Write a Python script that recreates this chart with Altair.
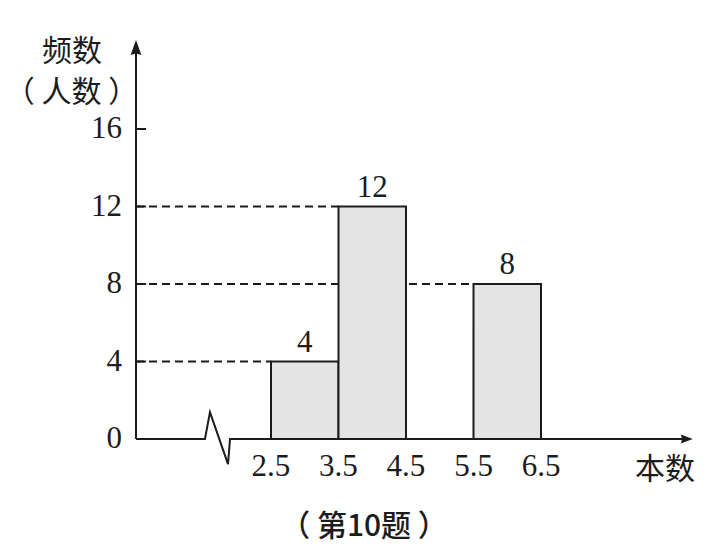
import altair as alt
import pandas as pd

# Frequency table: number of books read (class intervals) and number of people
bin_start = [2.5, 3.5, 4.5, 5.5]
bin_end = [3.5, 4.5, 5.5, 6.5]
counts = [4, 12, 0, 8]

y_ticks = [0, 4, 8, 12, 16]
x_ticks = [2.5, 3.5, 4.5, 5.5, 6.5]

y_title = ["频数", "（ 人数 ）"]
x_title = "本数"
caption = "（ 第10题 ）"

# Axis geometry, in data units
AXIS_X0 = 0.5          # position of the vertical axis on the x scale
Y_AXIS_TOP = 20.08
Y_ARROW = 20.21
X_AXIS_END = 8.63
X_ARROW = 8.66
# horizontal axis with a zigzag break between the origin and 2.5
break_x = [AXIS_X0, 1.522, 1.596, 1.863, 1.893, X_AXIS_END]
break_y = [0, 0, 1.39, -1.30, 0, 0]

X_DOMAIN = [-1.5148, 9.1074]
Y_DOMAIN = [-6.1419, 22.6581]

INK = "#1c1c1c"
SERIF = "Liberation Serif"
CJK = "Noto Sans CJK SC"
NUM_SIZE = 31


def xs(field, t="Q"):
    return alt.X(f"{field}:{t}", scale=alt.Scale(domain=X_DOMAIN, nice=False, zero=False), axis=None)


def ys(field, t="Q"):
    return alt.Y(f"{field}:{t}", scale=alt.Scale(domain=Y_DOMAIN, nice=False, zero=False), axis=None)


bars = pd.DataFrame({"start": bin_start, "end": bin_end, "count": counts})
bars["mid"] = (bars["start"] + bars["end"]) / 2
bars["base"] = 0
bars["axis"] = AXIS_X0
bars = bars[bars["count"] > 0]

# dashed guides from the vertical axis to the top of each bar (drawn under the bars)
guides = alt.Chart(bars).mark_rule(strokeDash=[8, 5], strokeWidth=1.8, color=INK).encode(
    x=xs("axis"), x2="start:Q", y=ys("count")
)

rects = alt.Chart(bars).mark_rect(fill="#e4e4e4", stroke=INK, strokeWidth=2).encode(
    x=xs("start"), x2="end:Q", y=ys("count"), y2="base:Q"
)

value_labels = alt.Chart(bars).mark_text(
    font=SERIF, fontSize=NUM_SIZE, dy=-19, baseline="middle", color=INK
).encode(x=xs("mid"), y=ys("count"), text="count:Q")

# horizontal axis with the break
axis_df = pd.DataFrame({"bx": break_x, "by": break_y, "o": range(len(break_x))})
x_axis = alt.Chart(axis_df).mark_line(color=INK, strokeWidth=2, strokeJoin="miter").encode(
    x=xs("bx"), y=ys("by"), order="o:O"
)

yax_df = pd.DataFrame({"x": [AXIS_X0], "y0": [0], "y1": [Y_AXIS_TOP]})
y_axis = alt.Chart(yax_df).mark_rule(color=INK, strokeWidth=2).encode(
    x=xs("x"), y=ys("y0"), y2="y1:Q"
)

up_arrow = alt.Chart(pd.DataFrame({"x": [AXIS_X0], "y": [Y_ARROW]})).mark_point(
    shape="M0,-1L-0.72,1L0,0.8L0.72,1Z", size=225, filled=True, color=INK, opacity=1
).encode(x=xs("x"), y=ys("y"))

right_arrow = alt.Chart(pd.DataFrame({"x": [X_ARROW], "y": [0]})).mark_point(
    shape="M1,0L-1,-0.75L-0.8,0L-1,0.75Z", size=144, filled=True, color=INK, opacity=1
).encode(x=xs("x"), y=ys("y"))

# y ticks and labels
ytick_df = pd.DataFrame({"v": y_ticks})
ytick_df["a"] = AXIS_X0
ytick_df["b"] = AXIS_X0 + 0.15
ytick_df["lx"] = 0.292
y_tick_marks = alt.Chart(ytick_df[ytick_df["v"] > 0]).mark_rule(color=INK, strokeWidth=2).encode(
    x=xs("a"), x2="b:Q", y=ys("v")
)
y_tick_labels = alt.Chart(ytick_df).mark_text(
    font=SERIF, fontSize=NUM_SIZE, align="right", baseline="middle", color=INK
).encode(x=xs("lx"), y=ys("v"), text="v:Q")

# x tick labels
xtick_df = pd.DataFrame({"v": x_ticks, "ly": -1.45})
x_tick_labels = alt.Chart(xtick_df).mark_text(
    font=SERIF, fontSize=NUM_SIZE, align="center", baseline="middle", color=INK
).encode(x=xs("v"), y=ys("ly"), text=alt.Text("v:Q", format=".1f"))

# axis titles and caption
titles_df = pd.DataFrame({
    "t": [y_title[0], y_title[1], x_title],
    "tx": [-0.448, -0.455, 8.337],
    "ty": [19.97, 17.86, -1.6],
})
titles = alt.Chart(titles_df).mark_text(
    font=CJK, fontSize=30, align="center", baseline="middle", color=INK
).encode(x=xs("tx"), y=ys("ty"), text="t:N")

cap = alt.Chart(pd.DataFrame({"t": [caption], "tx": [3.878], "ty": [-4.54]})).mark_text(
    font=CJK, fontSize=30, fontWeight=500, align="center", baseline="middle", color=INK
).encode(x=xs("tx"), y=ys("ty"), text="t:N")

chart = alt.layer(
    guides, rects, value_labels, x_axis, y_axis, up_arrow, right_arrow,
    y_tick_marks, y_tick_labels, x_tick_labels, titles, cap
).properties(
    width=717, height=558, padding=0, autosize=alt.AutoSizeParams(type="none"),
    background="white"
).configure_view(stroke=None)

chart.save("out.html", embed_options={"renderer": "svg", "actions": False})
